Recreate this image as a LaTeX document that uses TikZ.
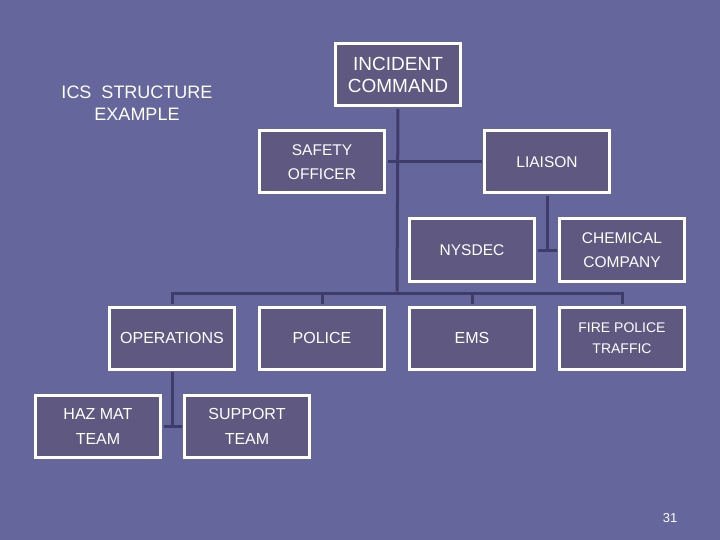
\documentclass[tikz,border=0pt]{standalone}
\usepackage{fontspec}
\setmainfont{Liberation Sans}
\definecolor{slide}{RGB}{101,102,155}
\definecolor{boxfill}{RGB}{95,88,128}
\definecolor{linkcol}{RGB}{62,60,104}
\begin{document}
\begin{tikzpicture}[x=1pt,y=-1pt,
	box/.style={ draw=white, fill=boxfill, line width=3pt, text=white, minimum width=125pt, minimum height=62pt, inner sep=0pt, align=center, font=\fontsize{15.5}{24}\selectfont },
	link/.style={ draw=linkcol, line width=3pt, shorten >=1.5pt, shorten <=1.5pt },
	plain/.style={ text=white, align=center, inner sep=0pt }
]
	\fill[slide] (0,0) rectangle (720,540);
	\useasboundingbox (0,0) rectangle (720,540);
	\node at (137,103) (title) [plain,font=\fontsize{18}{22}\selectfont] {ICS\ \ STRUCTURE\\EXAMPLE};
	\node at (398,75) (ic) [box,font=\fontsize{19}{22}\selectfont] {INCIDENT\\COMMAND};
	\node at (322,162) (safety) [box] {SAFETY\\OFFICER};
	\node at (547,162) (liaison) [box] {LIAISON};
	\node at (472,250) (nysdec) [box] {NYSDEC};
	\node at (622,250) (chem) [box] {CHEMICAL\\COMPANY};
	\node at (172,338) (ops) [box,font=\fontsize{16}{24}\selectfont] {OPERATIONS};
	\node at (322,338) (police) [box,font=\fontsize{16}{24}\selectfont] {POLICE};
	\node at (472,338) (ems) [box,font=\fontsize{16}{24}\selectfont] {EMS};
	\node at (622,338) (fire) [box,font=\fontsize{14}{21}\selectfont] {FIRE POLICE\\TRAFFIC};
	\node at (98,426) (hazmat) [box,font=\fontsize{16}{25}\selectfont] {HAZ MAT\\TEAM};
	\node at (247,426) (support) [box,font=\fontsize{16}{25}\selectfont] {SUPPORT\\TEAM};
	\node at (670,518) (page) [plain,font=\fontsize{13}{15}\selectfont] {31};
	\coordinate (bus) at (397,293);
	% connectors
	\draw[link] (ic.south) -- (bus);
	\draw[link] (safety.east) -- (liaison.west);
	\draw[link] (nysdec.east) -- (chem.west);
	\draw[link,shorten >=0pt] (liaison.south) -- (liaison.south |- chem.west);
	\draw[link] (ops.north) |- (bus) -| (fire.north);
	\draw[link,shorten <=0pt] (police.north |- bus) -- (police.north);
	\draw[link,shorten <=0pt] (ems.north |- bus) -- (ems.north);
	\draw[link] (hazmat.east) -- (support.west);
	\draw[link,shorten >=0pt] (ops.south) -- (ops.south |- hazmat.east);
\end{tikzpicture}
\end{document}
